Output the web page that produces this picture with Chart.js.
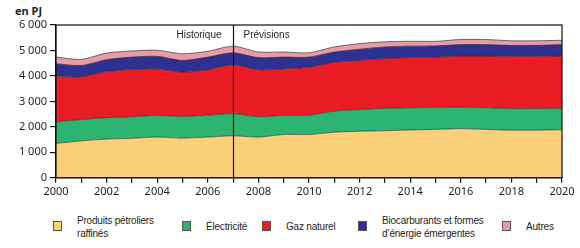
<!DOCTYPE html>
<html>
<head>
<meta charset="utf-8">
<script src="https://cdn.jsdelivr.net/npm/chart.js@4.4.1/dist/chart.umd.min.js"></script>
<style>
  html, body { margin: 0; padding: 0; background: #fff; }
  body { width: 580px; height: 248px; position: relative; overflow: hidden; font-family: 'Noto Sans', sans-serif; color: #231f20; }
  #zone { position: absolute; left: 0; top: 0; width: 580px; height: 200px; }
  #unite { position: absolute; left: 15px; top: 3px; font-size: 11px; font-weight: bold; }
  .leg { position: absolute; top: 214px; font-size: 10px; line-height: 13px; font-family: 'Liberation Sans', sans-serif; }
  .leg .box { position: absolute; width: 9px; height: 10px; border: 1px solid #555; box-sizing: border-box; top: 7px; }
  .leg .txt { position: absolute; white-space: nowrap; letter-spacing: -0.2px; }
</style>
</head>
<body>
<div id="unite">en PJ</div>
<div id="zone"><canvas id="grafico"></canvas></div>
<div id="legende"></div>
<script>
// Consommation d'énergie par source (PJ), historique 2000-2007, prévisions 2008-2020
const annees = ['2000','2001','2002','2003','2004','2005','2006','2007','2008','2009','2010',
                '2011','2012','2013','2014','2015','2016','2017','2018','2019','2020'];
const petrole = [1350,1450,1520,1550,1600,1560,1600,1650,1600,1700,1700,1790,1830,1850,1880,1900,1930,1900,1870,1870,1890];
const electricite = [850,840,840,850,850,850,860,870,800,750,760,830,850,880,870,870,850,850,850,850,840];
const gaz = [1790,1680,1810,1850,1830,1740,1780,1920,1840,1830,1880,1920,1930,1950,1970,1970,2000,2030,2050,2050,2050];
const biocarburants = [490,440,470,490,490,460,500,470,480,460,400,400,440,460,450,440,450,450,430,430,450];
const autres = [260,240,260,240,240,260,230,260,220,200,170,200,220,200,190,180,200,200,180,180,170];
const ticksY = [0,1000,2000,3000,4000,5000,6000];
const anneeCoupure = '2007';

const series = [
  { nom: ['Produits pétroliers', 'raffinés'], data: petrole, couleur: '#fdcf78', x: 53 },
  { nom: ['Électricité'], data: electricite, couleur: '#2db470', x: 182 },
  { nom: ['Gaz naturel'], data: gaz, couleur: '#ec1c24', x: 262 },
  { nom: ['Biocarburants et formes', 'd\u2019énergie émergentes'], data: biocarburants, couleur: '#2e3192', x: 358 },
  { nom: ['Autres'], data: autres, couleur: '#e89cab', x: 502 }
];

const espace = (v) => String(v).replace(/\B(?=(\d{3})+(?!\d))/g, ' ');

// cadre + séparation historique / prévisions
const cadre = {
  id: 'cadre',
  afterDatasetsDraw(chart) {
    const { ctx, chartArea: a, scales: { x } } = chart;
    ctx.save();
    ctx.strokeStyle = '#111';
    ctx.lineWidth = 1.2;
    ctx.strokeRect(a.left, a.top, a.right - a.left, a.bottom - a.top);
    const xc = Math.round(x.getPixelForValue(annees.indexOf(anneeCoupure))) + 0.5;
    ctx.beginPath();
    ctx.moveTo(xc, a.top);
    ctx.lineTo(xc, a.bottom);
    ctx.stroke();
    ctx.fillStyle = '#231f20';
    ctx.font = '10px "Liberation Sans", sans-serif';
    ctx.textBaseline = 'middle';
    ctx.textAlign = 'right';
    ctx.fillText('Historique', xc - 12, a.top + 10);
    ctx.textAlign = 'left';
    ctx.fillText('Prévisions', xc + 10, a.top + 10);
    ctx.restore();
  }
};

new Chart(document.getElementById('grafico'), {
  type: 'line',
  data: {
    labels: annees,
    datasets: series.map((s, i) => ({
      label: s.nom.join(' '),
      data: s.data,
      backgroundColor: s.couleur,
      borderColor: 'rgba(40,40,40,0.8)',
      borderWidth: 0.8,
      pointRadius: 0,
      tension: 0.25,
      fill: i === 0 ? 'origin' : '-1'
    }))
  },
  options: {
    responsive: true,
    maintainAspectRatio: false,
    animation: false,
    layout: { padding: { top: 25, right: 18, left: 0, bottom: 0 } },
    plugins: { legend: { display: false }, tooltip: { enabled: false } },
    scales: {
      x: {
        offset: false,
        grid: { display: true, drawOnChartArea: false, color: '#111', tickLength: 5, lineWidth: 1.2 },
        border: { color: '#111', width: 1.2 },
        ticks: {
          color: '#231f20', font: { size: 11, family: 'Noto Sans' }, maxRotation: 0, autoSkip: false, padding: 2,
          callback: function (v, i) { return i % 2 === 0 ? annees[i] : ''; }
        }
      },
      y: {
        stacked: true,
        min: 0, max: 6000,
        afterFit: (s) => { s.width = 56; },
        afterBuildTicks: (s) => { s.ticks = ticksY.map(v => ({ value: v })); },
        grid: { display: true, drawOnChartArea: false, color: '#111', tickLength: 6, lineWidth: 1.2 },
        border: { color: '#111', width: 1.2 },
        ticks: { color: '#231f20', font: { size: 11, family: 'Noto Sans' }, padding: 3, callback: (v) => espace(v) }
      }
    }
  },
  plugins: [cadre]
});

// légende
const leg = document.getElementById('legende');
series.forEach(s => {
  const d = document.createElement('div');
  d.className = 'leg';
  d.style.left = s.x + 'px';
  const b = document.createElement('div');
  b.className = 'box';
  b.style.background = s.couleur;
  b.style.left = '0px';
  d.appendChild(b);
  const t = document.createElement('div');
  t.className = 'txt';
  t.style.left = '24px';
  t.style.top = s.nom.length > 1 ? '0px' : '6px';
  t.innerHTML = s.nom.join('<br>');
  d.appendChild(t);
  leg.appendChild(d);
});
</script>
</body>
</html>
